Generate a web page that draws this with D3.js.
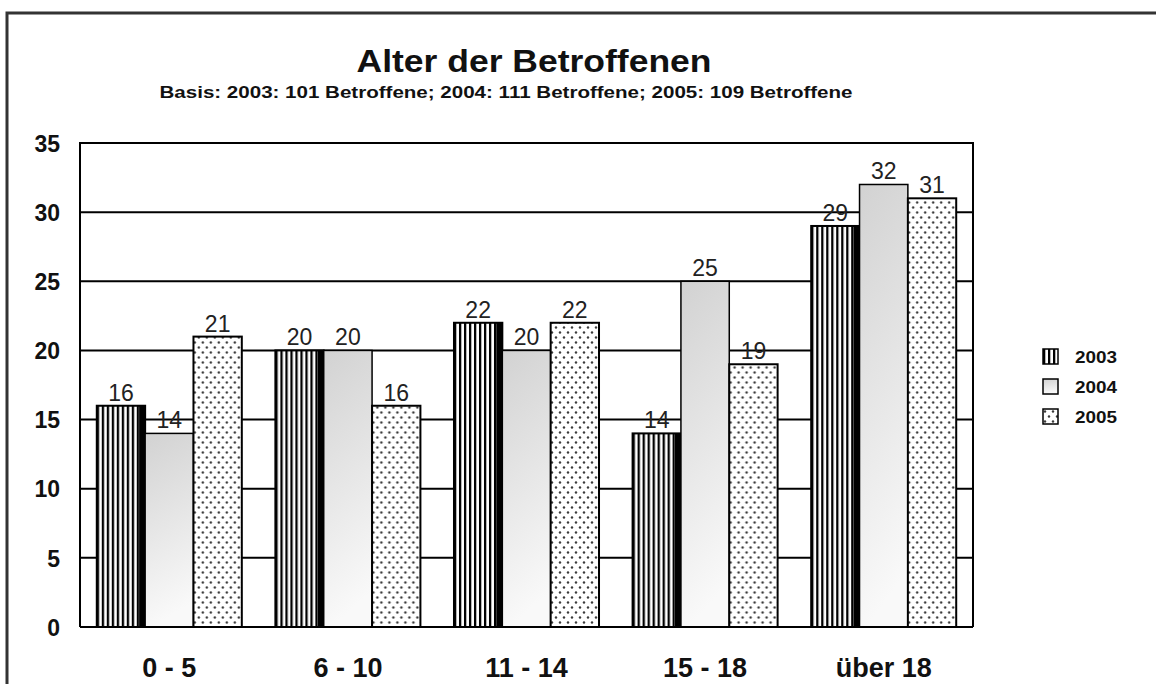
<!DOCTYPE html>
<html>
<head>
<meta charset="utf-8">
<script src="https://cdn.jsdelivr.net/npm/d3@7"></script>
<style>
  html, body { margin: 0; padding: 0; background: #fff; }
  svg { display: block; font-family: "Liberation Sans", Arial, sans-serif; }
</style>
</head>
<body>
<svg id="chart" width="1156" height="684"></svg>
<script>
const categories = ["0 - 5", "6 - 10", "11 - 14", "15 - 18", "über 18"];
const series = ["2003", "2004", "2005"];
const values2003 = [16, 20, 22, 14, 29];
const values2004 = [14, 20, 20, 25, 32];
const values2005 = [21, 16, 22, 19, 31];
const yTicks = [0, 5, 10, 15, 20, 25, 30, 35];
const titleText = "Alter der Betroffenen";
const subtitleText = "Basis: 2003: 101 Betroffene; 2004: 111 Betroffene; 2005: 109 Betroffene";

const seriesValues = { "2003": values2003, "2004": values2004, "2005": values2005 };

const svg = d3.select("#chart");
const defs = svg.append("defs");

// stripes pattern (2003)
const stripes = defs.append("pattern").attr("id", "stripes")
  .attr("patternUnits", "userSpaceOnUse").attr("width", 5).attr("height", 10);
stripes.append("rect").attr("width", 5).attr("height", 10).attr("fill", "#fff");
stripes.append("rect").attr("width", 2.3).attr("height", 10).attr("fill", "#000");

// gradient (2004)
const grad = defs.append("linearGradient").attr("id", "grad04")
  .attr("x1", 0).attr("y1", 0).attr("x2", 0.15).attr("y2", 1);
grad.append("stop").attr("offset", "0%").attr("stop-color", "#d2d2d2");
grad.append("stop").attr("offset", "100%").attr("stop-color", "#f9f9f9");

// dots pattern (2005)
const dots = defs.append("pattern").attr("id", "dots")
  .attr("patternUnits", "userSpaceOnUse").attr("width", 8).attr("height", 10);
dots.append("rect").attr("width", 8).attr("height", 10).attr("fill", "#fff");
dots.append("circle").attr("cx", 2).attr("cy", 2.5).attr("r", 1.2).attr("fill", "#3a3a3a");
dots.append("circle").attr("cx", 6).attr("cy", 7.5).attr("r", 1.2).attr("fill", "#3a3a3a");

const fills = { "2003": "url(#stripes)", "2004": "url(#grad04)", "2005": "url(#dots)" };

// outer frame
svg.append("path")
  .attr("d", "M7,700 L7,13 L1170,13")
  .attr("fill", "none").attr("stroke", "#333").attr("stroke-width", 3);

// Titles
svg.append("text").attr("x", 534).attr("y", 72)
  .attr("text-anchor", "middle").attr("font-weight", "bold")
  .attr("font-size", 32).attr("fill", "#111")
  .attr("textLength", 355).attr("lengthAdjust", "spacingAndGlyphs")
  .text(titleText);
svg.append("text").attr("x", 506).attr("y", 98)
  .attr("text-anchor", "middle").attr("font-weight", "bold")
  .attr("font-size", 16).attr("fill", "#111")
  .attr("textLength", 693).attr("lengthAdjust", "spacingAndGlyphs")
  .text(subtitleText);

// scales
const plotLeft = 80, plotRight = 973, plotTop = 143, plotBottom = 627;
const y = d3.scaleLinear().domain([0, 35]).range([plotBottom, plotTop]);
const x0 = d3.scaleBand().domain(categories).range([plotLeft, plotRight])
  .paddingInner(0.188).paddingOuter(0.094);
const x1 = d3.scaleBand().domain(series).range([0, x0.bandwidth()]).padding(0);

// grid lines
svg.append("g").selectAll("line").data(yTicks.filter(t => t > 0 && t < 35)).join("line")
  .attr("x1", plotLeft).attr("x2", plotRight)
  .attr("y1", d => y(d)).attr("y2", d => y(d))
  .attr("stroke", "#000").attr("stroke-width", 2);

// plot border (top, left, right)
svg.append("path")
  .attr("d", `M${plotLeft},${plotBottom} L${plotLeft},${y(35)} L${plotRight},${y(35)} L${plotRight},${plotBottom}`)
  .attr("fill", "none").attr("stroke", "#000").attr("stroke-width", 2);

// y axis labels
const yAxis = d3.axisLeft(y).tickValues(yTicks).tickSize(0).tickPadding(20);
const gy = svg.append("g").attr("transform", `translate(${plotLeft},0)`).call(yAxis);
gy.select(".domain").remove();
gy.selectAll("text").attr("font-size", 23).attr("font-weight", "bold")
  .attr("fill", "#111").attr("font-family", "Liberation Sans, Arial, sans-serif")
  .attr("dy", "0.36em");

// bars
const groups = svg.append("g").selectAll("g").data(categories).join("g")
  .attr("transform", d => `translate(${x0(d)},0)`);

groups.each(function(cat, i) {
  const g = d3.select(this);
  series.forEach(s => {
    const v = seriesValues[s][i];
    const bx = x1(s), bw = x1.bandwidth();
    g.append("rect")
      .attr("x", bx).attr("y", y(v))
      .attr("width", bw).attr("height", y(0) - y(v))
      .attr("fill", fills[s])
      .attr("stroke", "#000").attr("stroke-width", s === "2004" ? 1.5 : 2);
    if (s === "2003") {
      g.append("rect")
        .attr("x", bx + bw - 6).attr("y", y(v))
        .attr("width", 6).attr("height", y(0) - y(v))
        .attr("fill", "#000");
    }
    g.append("text")
      .attr("x", bx + bw / 2).attr("y", y(v) - 5)
      .attr("text-anchor", "middle").attr("font-size", 23)
      .attr("fill", "#222").text(v);
  });
});

// baseline
svg.append("line").attr("x1", plotLeft).attr("x2", plotRight)
  .attr("y1", y(0)).attr("y2", y(0)).attr("stroke", "#000").attr("stroke-width", 2);

// x axis labels
const xAxis = d3.axisBottom(x0).tickSize(0).tickPadding(0);
const gx = svg.append("g").attr("transform", `translate(0,${plotBottom})`).call(xAxis);
gx.select(".domain").remove();
gx.selectAll("text").attr("font-size", 27).attr("font-weight", "bold")
  .attr("fill", "#111").attr("font-family", "Liberation Sans, Arial, sans-serif")
  .attr("dy", 0).attr("y", 50);

// legend
const legend = svg.append("g").attr("transform", "translate(1043,349)");
series.forEach((s, i) => {
  const lg = legend.append("g").attr("transform", `translate(0,${i * 30})`);
  lg.append("rect").attr("width", 15).attr("height", 15)
    .attr("fill", fills[s]).attr("stroke", "#000").attr("stroke-width", 1.5);
  lg.append("text").attr("x", 32).attr("y", 14)
    .attr("font-size", 16).attr("font-weight", "bold").attr("fill", "#111")
    .attr("textLength", 42).attr("lengthAdjust", "spacingAndGlyphs")
    .text(s);
});
</script>
</body>
</html>
